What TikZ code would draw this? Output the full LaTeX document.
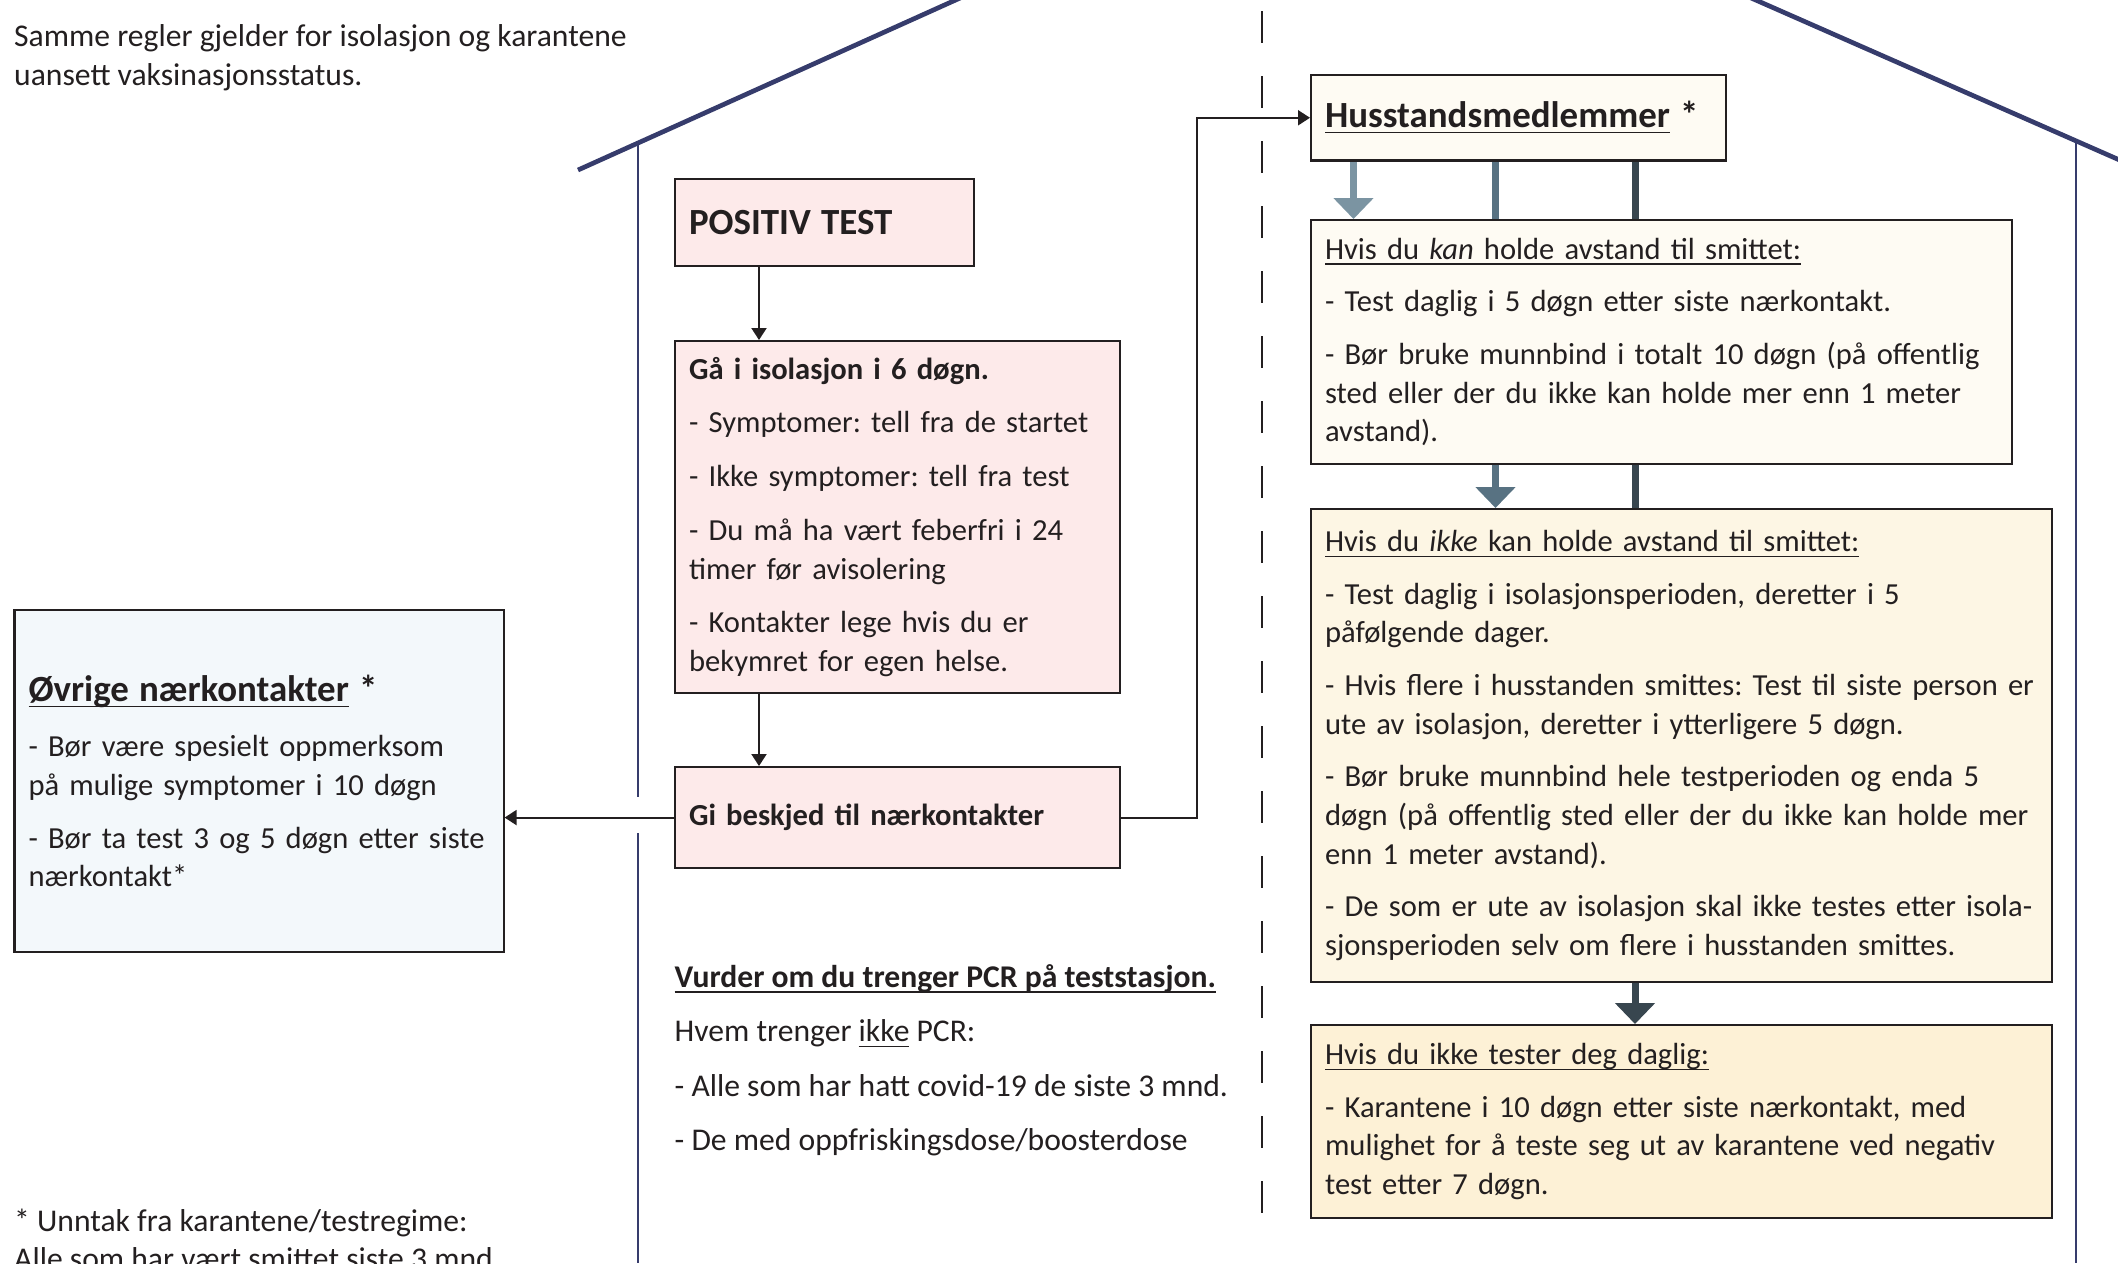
\documentclass[tikz,border=0pt]{standalone}
\usepackage{fontspec}
\setmainfont{Carlito}
\usepackage{tikz}
\usetikzlibrary{arrows.meta, backgrounds}
\definecolor{marine}{RGB}{54, 60, 108}
\definecolor{tekst}{RGB}{35, 31, 32}
\definecolor{rosa}{RGB}{253, 234, 234}
\definecolor{himmel}{RGB}{243, 248, 251}
\definecolor{krem}{RGB}{254, 251, 243}
\definecolor{sand}{RGB}{253, 246, 228}
\definecolor{oker}{RGB}{253, 241, 214}
\definecolor{lys}{RGB}{123, 148, 162}
\definecolor{staal}{RGB}{88, 114, 130}
\definecolor{skifer}{RGB}{56, 70, 79}
\frenchspacing
\hyphenpenalty=10000
\exhyphenpenalty=10000
\newcommand{\brod}{\fontsize{9}{11}\selectfont}
\newcommand{\boksbrod}{\fontsize{8.7}{11}\selectfont}
\newcommand{\tittel}{\fontsize{10.5}{12.6}\selectfont\bfseries}
\newcommand{\strek}[1]{\underline{\raisebox{0pt}[\height][0pt]{#1}}}
\tikzset{
    boks/.style={draw=tekst, line width=0.6pt, rectangle, anchor=north west, align=left, text=tekst, inner xsep=0.14cm, inner ysep=0pt, font=\boksbrod},
    fri/.style={anchor=west, align=left, inner sep=0pt, text=tekst, font=\brod},
    pil/.style={-{Triangle[width=0.15cm, length=0.12cm]}, tekst, line width=0.6pt},
    tykk/.style={line width=0.07cm, -{Triangle[width=0.39cm, length=0.21cm]}},
    tak/.style={marine, line width=0.047cm},
    vegg/.style={marine, line width=0.02cm},
}
\begin{document}
\begin{tikzpicture}
    \useasboundingbox (0,0) rectangle (21.18,-12.63);

    % tak, vegger og skillelinje
    \begin{scope}
        \clip (0,0) rectangle (21.18,-12.63);
        \draw [tak] (5.78,-1.70) -- (13.51,1.78) -- (21.40,-1.69);
    \end{scope}
    \draw [vegg] (6.377,-1.43) -- (6.377,-7.97);
    \draw [vegg] (6.377,-8.33) -- (6.377,-12.63);
    \draw [vegg] (20.76,-1.40) -- (20.76,-12.63);
    \draw [tekst, line width=0.02cm, dash pattern=on 0.32cm off 0.33cm] (12.62,-0.11) -- (12.62,-12.22);

    \node [fri] (regler) at (0.135,-0.58) {Samme regler gjelder for isolasjon og karantene\\ uansett vaksinasjonsstatus.};

    \node [boks, fill=rosa, minimum width=2.99cm, minimum height=0.87cm, text width=2.71cm] (ptest) at (6.74,-1.78) {\tittel POSITIV TEST};
    \node [boks, fill=rosa, minimum width=4.445cm, minimum height=3.516cm, text width=4.165cm] (iso) at (6.74,-3.40) {\textbf{Gå i isolasjon i 6 døgn.}\\[4.3pt]
        - Symptomer: tell fra de startet\\[4.3pt]
        - Ikke symptomer: tell fra test\\[4.3pt]
        - Du må ha vært feberfri i 24\\ timer før avisolering\\[4.3pt]
        - Kontakter lege hvis du er\\ bekymret for egen helse.};
    \node [boks, fill=rosa, minimum width=4.445cm, minimum height=1.01cm, text width=4.165cm] (beskjed) at (6.74,-7.66) {\textbf{Gi beskjed til nærkontakter}};

    \node [boks, fill=himmel, minimum width=4.89cm, minimum height=3.42cm, text width=4.61cm] (ovrige) at (0.135,-6.09) {{\tittel\strek{Øvrige nærkontakter} *}\\[4.8pt]
        - Bør være spesielt oppmerksom\\ på mulige symptomer i 10 døgn\\[4pt]
        - Bør ta test 3 og 5 døgn etter siste\\ nærkontakt*};

    \node [fri] (pcr) at (6.74,-10.60) {\textbf{\strek{Vurder om du trenger PCR på teststasjon.}}\\[4.5pt]
        Hvem trenger \strek{ikke} PCR:\\[4.5pt]
        - Alle som har hatt covid-19 de siste 3 mnd.\\[4.5pt]
        - De med oppfriskingsdose/boosterdose};

    \node [fri] (unntak) at (0.135,-12.395) {* Unntak fra karantene/testregime:\\ Alle som har vært smittet siste 3 mnd};

    \node [boks, fill=krem, minimum width=4.15cm, minimum height=0.854cm, text width=3.87cm] (hus) at (13.10,-0.74) {\tittel\strek{Husstandsmedlemmer} *};
    \node [boks, fill=krem, minimum width=7.01cm, minimum height=2.44cm, text width=6.73cm] (kan) at (13.10,-2.19) {\strek{Hvis du \textit{kan} holde avstand til smittet:}\\[4pt]
        - Test daglig i 5 døgn etter siste nærkontakt.\\[4pt]
        - Bør bruke munnbind i totalt 10 døgn (på offentlig\\ sted eller der du ikke kan holde mer enn 1 meter\\ avstand).};
    \node [boks, fill=sand, minimum width=7.405cm, minimum height=4.727cm, text width=7.125cm] (ikke) at (13.10,-5.08) {\strek{Hvis du \textit{ikke} kan holde avstand til smittet:}\\[4pt]
        - Test daglig i isolasjonsperioden, deretter i 5\\ påfølgende dager.\\[4pt]
        - Hvis flere i husstanden smittes: Test til siste person er\\ ute av isolasjon, deretter i ytterligere 5 døgn.\\[4pt]
        - Bør bruke munnbind hele testperioden og enda 5\\ døgn (på offentlig sted eller der du ikke kan holde mer\\ enn 1 meter avstand).\\[4pt]
        - De som er ute av isolasjon skal ikke testes etter isola-\\ sjonsperioden selv om flere i husstanden smittes.};
    \node [boks, fill=oker, minimum width=7.405cm, minimum height=1.93cm, text width=7.125cm] (daglig) at (13.10,-10.24) {\strek{Hvis du ikke tester deg daglig:}\\[4pt]
        - Karantene i 10 døgn etter siste nærkontakt, med\\ mulighet for å teste seg ut av karantene ved negativ\\ test etter 7 døgn.};

    \coordinate (spine) at (7.59,0);
    \coordinate (sving) at (11.97,0);
    \coordinate (lA) at (13.535,0);
    \coordinate (lB) at (14.955,0);
    \coordinate (lC) at (16.35,0);

    \draw [pil] (ptest.south -| spine) -- (iso.north -| spine);
    \draw [pil] (iso.south -| spine) -- (beskjed.north -| spine);
    \draw [pil] (beskjed.west) -- (beskjed.west -| ovrige.east);
    \draw [pil] (beskjed.east) -- (beskjed.east -| sving) -- (hus.west -| sving) -- (hus.west);

    \begin{pgfonlayer}{background}
        \draw [tykk, lys] (hus.south -| lA) -- (kan.north -| lA);
        \draw [tykk, staal] (hus.south -| lB) -- (ikke.north -| lB);
        \draw [tykk, skifer] (hus.south -| lC) -- (daglig.north -| lC);
    \end{pgfonlayer}
\end{tikzpicture}
\end{document}
